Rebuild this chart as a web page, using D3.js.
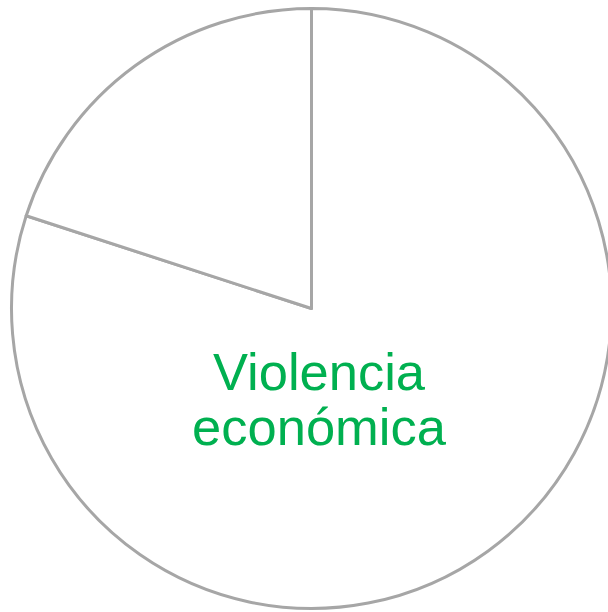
<!DOCTYPE html>
<html>
<head>
<meta charset="utf-8">
<script src="https://cdn.jsdelivr.net/npm/d3@7"></script>
<style>
  html, body { margin: 0; padding: 0; background: #fff; }
  svg { display: block; }
</style>
</head>
<body>
<svg id="chart" width="608" height="612"></svg>
<script>
const categories = ["Violencia económica", "Otra"];
const values = [80, 20];
const labels = ["Violencia económica", ""];

const svg = d3.select("#chart");
const cx = 311.5, cy = 308.5, r = 300;
const g = svg.append("g").attr("transform", `translate(${cx},${cy})`);

const pie = d3.pie().sort(null).value(d => d)(values);
const arc = d3.arc().innerRadius(0).outerRadius(r);

g.selectAll("path").data(pie).enter().append("path")
  .attr("d", arc)
  .attr("fill", "#ffffff")
  .attr("stroke", "#A6A6A6")
  .attr("stroke-width", 3)
  .attr("stroke-linejoin", "round");

const t = g.append("text")
  .attr("x", 7.5)
  .attr("y", 81.5)
  .attr("text-anchor", "middle")
  .attr("fill", "#00B050")
  .style("font-family", "'Liberation Sans', Arial, sans-serif")
  .style("font-size", "52.5px");
const words = labels[0].split(" ");
words.forEach((w, i) => {
  t.append("tspan").attr("x", 7.5).attr("dy", i === 0 ? 0 : 55).text(w);
});
</script>
</body>
</html>
